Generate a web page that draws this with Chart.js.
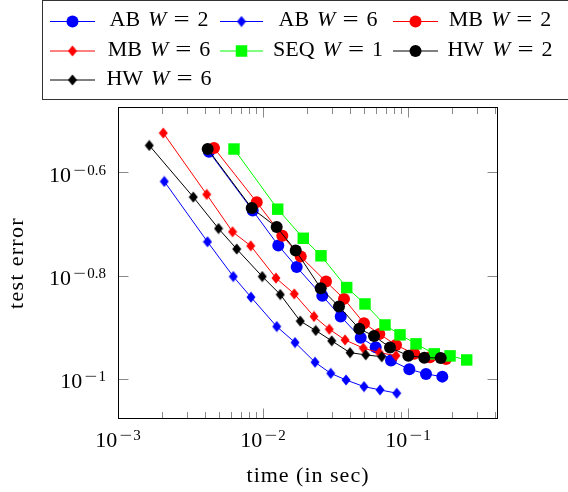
<!DOCTYPE html>
<html>
<head>
<meta charset="utf-8">
<script src="https://cdn.jsdelivr.net/npm/chart.js@4.4.1/dist/chart.umd.min.js"></script>
<style>
  html, body { margin: 0; padding: 0; background: #fff; }
  canvas { display: block; }
</style>
</head>
<body>
<canvas id="myChart" width="568" height="492"></canvas>
<script>
// data: time (in sec) vs test error
const abW2Time = [0.00424, 0.00849, 0.01275, 0.01708, 0.02564, 0.03435, 0.04718, 0.05986, 0.07634, 0.1021, 0.1331, 0.1724];
const abW2Err  = [0.2755, 0.2119, 0.1813, 0.1646, 0.1448, 0.1320, 0.1201, 0.1151, 0.1084, 0.1043, 0.1021, 0.1009];

const abW6Time = [0.002086, 0.004142, 0.00624, 0.008263, 0.01243, 0.01663, 0.02284, 0.0293, 0.03736, 0.04972, 0.06411, 0.08357];
const abW6Err  = [0.2413, 0.1843, 0.1578, 0.1439, 0.1262, 0.1175, 0.1076, 0.1024, 0.0994, 0.0965, 0.0951, 0.0937];

const mbW2Time = [0.004593, 0.009049, 0.01359, 0.0182, 0.02719, 0.03619, 0.04972, 0.06341, 0.08263, 0.1105, 0.1418, 0.1828];
const mbW2Err  = [0.2802, 0.2200, 0.1893, 0.1725, 0.1543, 0.1428, 0.1281, 0.1221, 0.1162, 0.1117, 0.1100, 0.1092];

const mbW6Time = [0.002053, 0.00409, 0.006162, 0.008225, 0.01229, 0.01644, 0.02247, 0.02866, 0.03678, 0.04916, 0.06341, 0.08263];
const mbW6Err  = [0.2996, 0.2277, 0.1927, 0.1810, 0.1567, 0.1460, 0.1320, 0.1247, 0.1189, 0.1146, 0.1123, 0.1108];

const seqW1Time = [0.00631, 0.01263, 0.01896, 0.02512, 0.03778, 0.05051, 0.06939, 0.08808, 0.1136, 0.1518, 0.1949, 0.254];
const seqW1Err  = [0.2789, 0.2132, 0.1872, 0.1731, 0.1502, 0.1396, 0.1271, 0.1216, 0.1168, 0.1117, 0.1107, 0.1087];

const hwW2Time = [0.004156, 0.008357, 0.01243, 0.01681, 0.025, 0.03343, 0.04614, 0.0583, 0.07514, 0.1005, 0.1295, 0.1681];
const hwW2Err  = [0.2789, 0.2142, 0.1968, 0.1772, 0.1498, 0.1380, 0.1249, 0.1210, 0.1149, 0.1108, 0.1098, 0.1097];

const hwW6Time = [0.001644, 0.003306, 0.004933, 0.006587, 0.00989, 0.01316, 0.01808, 0.02309, 0.02977, 0.03981, 0.05109, 0.06587];
const hwW6Err  = [0.2834, 0.2250, 0.1955, 0.1784, 0.1578, 0.1456, 0.1293, 0.1240, 0.1184, 0.1123, 0.1112, 0.1103];

const seriesNames = ['AB', 'AB', 'MB', 'MB', 'SEQ', 'HW', 'HW'];
const seriesW = [2, 6, 2, 6, 1, 2, 6];

// axis range and ticks (powers of ten)
const xMin = 0.001, xMax = 0.4175;
const yMin = 0.0835, yMax = 0.3365;
const xTickExp = [-3, -2, -1];
const yTickExp = [-1, -0.8, -0.6];

const FONT = "'Liberation Serif', 'Times New Roman', serif";

// pgfplots style diamond mark
function diamond(color) {
    const c = document.createElement('canvas');
    c.width = 10; c.height = 12;
    const g = c.getContext('2d');
    g.fillStyle = color;
    g.beginPath();
    g.moveTo(5, 0.5); g.lineTo(9.5, 6); g.lineTo(5, 11.5); g.lineTo(0.5, 6);
    g.closePath();
    g.fill();
    return c;
}

const styles = [
    {color: '#0000ff', mark: 'circle'},
    {color: '#0000ff', mark: 'diamond'},
    {color: '#ff0000', mark: 'circle'},
    {color: '#ff0000', mark: 'diamond'},
    {color: '#00ff00', mark: 'square'},
    {color: '#000000', mark: 'circle'},
    {color: '#000000', mark: 'diamond'},
];
styles.forEach(s => { if (s.mark == 'diamond') s.img = diamond(s.color) })

const seriesData = [
    [abW2Time, abW2Err], [abW6Time, abW6Err], [mbW2Time, mbW2Err], [mbW6Time, mbW6Err],
    [seqW1Time, seqW1Err], [hwW2Time, hwW2Err], [hwW6Time, hwW6Err]
];

const datasets = seriesData.map(([t, e], i) => {
    const s = styles[i];
    let pointStyle = 'circle', radius = 6;
    if (s.mark == 'diamond') { pointStyle = s.img; radius = 6; }
    if (s.mark == 'square') { pointStyle = 'rect'; radius = 8.1; }
    return {
        label: seriesNames[i] + ' W = ' + seriesW[i],
        data: t.map((x, k) => ({x: x, y: e[k]})),
        borderColor: s.color,
        backgroundColor: s.color,
        borderWidth: 1,
        pointStyle: pointStyle,
        pointRadius: radius,
        pointBorderWidth: 0,
        pointBackgroundColor: s.color,
        tension: 0,
        order: seriesData.length - i, // later series on top, like pgfplots
    };
});

function drawMark(ctx, s, x, y) {
    ctx.fillStyle = s.color;
    if (s.mark == 'circle') {
        ctx.beginPath(); ctx.arc(x, y, 6, 0, Math.PI * 2); ctx.fill();
    } else if (s.mark == 'square') {
        ctx.fillRect(x - 5.75, y - 5.75, 11.5, 11.5);
    } else {
        ctx.drawImage(s.img, x - 5, y - 6);
    }
}

// draw a row of text pieces (gap dx, raise dy, horizontal stretch sx)
function drawPieces(ctx, pieces, x, y, align) {
    let total = 0;
    pieces.forEach(p => {
        ctx.font = p.font;
        p.w = ctx.measureText(p.t).width * (p.sx || 1);
        total += (p.dx || 0) + p.w;
    });
    let cx = x;
    if (align == 'right') cx = x - total;
    if (align == 'center') cx = x - total / 2;
    ctx.textAlign = 'left';
    ctx.textBaseline = 'alphabetic';
    pieces.forEach(p => {
        cx += p.dx || 0;
        ctx.font = p.font;
        ctx.save();
        ctx.translate(cx, y + (p.dy || 0));
        ctx.scale(p.sx || 1, 1);
        ctx.fillText(p.t, 0, 0);
        ctx.restore();
        cx += p.w;
    });
}

function powPieces(exp) {
    return [
        {t: '10', font: '22px ' + FONT},
        {t: '\u2212', font: '15px ' + FONT, dx: 2, dy: -7, sx: 1.5},
        {t: String(Math.abs(exp)), font: '15px ' + FONT, dx: 1.5, dy: -7},
    ];
}

const axisPlugin = {
    id: 'axisPlugin',
    afterDatasetsDraw(chart) {
        const {ctx, chartArea: a, scales: {x, y}} = chart;
        ctx.save();
        // inner ticks
        ctx.strokeStyle = '#8a8a8a';
        ctx.lineWidth = 1;
        ctx.beginPath();
        xTickExp.forEach(e => {
            const px = Math.round(x.getPixelForValue(Math.pow(10, e))) + 0.5;
            ctx.moveTo(px, a.bottom); ctx.lineTo(px, a.bottom - 10.5);
            ctx.moveTo(px, a.top); ctx.lineTo(px, a.top + 10.5);
            for (let m = 2; m <= 9; m++) {
                const v = m * Math.pow(10, e);
                if (v > xMax) break;
                const mx = Math.round(x.getPixelForValue(v)) + 0.5;
                ctx.moveTo(mx, a.bottom); ctx.lineTo(mx, a.bottom - 7);
                ctx.moveTo(mx, a.top); ctx.lineTo(mx, a.top + 7);
            }
        });
        yTickExp.forEach(e => {
            const py = Math.round(y.getPixelForValue(Math.pow(10, e))) + 0.5;
            ctx.moveTo(a.left, py); ctx.lineTo(a.left + 10.5, py);
            ctx.moveTo(a.right, py); ctx.lineTo(a.right - 10.5, py);
        });
        ctx.stroke();
        // frame
        ctx.strokeStyle = '#000';
        ctx.strokeRect(a.left + 0.5, a.top + 0.5, a.right - a.left - 1, a.bottom - a.top - 1);

        // tick labels
        ctx.fillStyle = '#000';
        xTickExp.forEach(e => {
            drawPieces(ctx, powPieces(e), x.getPixelForValue(Math.pow(10, e)), a.bottom + 28, 'center');
        });
        yTickExp.forEach(e => {
            drawPieces(ctx, powPieces(e), a.left - 12, y.getPixelForValue(Math.pow(10, e)) + 9.5, 'right');
        });

        // axis titles
        ctx.font = '22px ' + FONT;
        ctx.letterSpacing = '1px';
        ctx.textAlign = 'center';
        ctx.textBaseline = 'alphabetic';
        ctx.fillText('time (in sec)', (a.left + a.right) / 2, 482);
        ctx.save();
        ctx.translate(23, (a.top + a.bottom) / 2);
        ctx.rotate(-Math.PI / 2);
        ctx.letterSpacing = '1.3px';
        ctx.fillText('test error', 0, 0);
        ctx.restore();
        ctx.letterSpacing = '0px';

        // legend box
        ctx.strokeStyle = '#333';
        ctx.strokeRect(42.5, 0.5, 540, 99);
        const lineX = [[50, 95], [220, 263], [393, 438]];
        const textC = [159, 328, 500];
        const rowY = [21.5, 51, 80];
        for (let i = 0; i < datasets.length; i++) {
            const col = i % 3, row = Math.floor(i / 3);
            const s = styles[i], yy = rowY[row];
            const [x0, x1] = lineX[col];
            ctx.strokeStyle = s.color;
            ctx.beginPath(); ctx.moveTo(x0, yy); ctx.lineTo(x1, yy); ctx.stroke();
            drawMark(ctx, s, (x0 + x1) / 2, yy);
            // label: name, italic W, = value
            ctx.fillStyle = '#000';
            drawPieces(ctx, [
                {t: seriesNames[i], font: '22px ' + FONT},
                {t: 'W', font: 'italic 22px ' + FONT, dx: 8},
                {t: '=', font: '22px ' + FONT, dx: 7, sx: 1.3},
                {t: String(seriesW[i]), font: '22px ' + FONT, dx: 8},
            ], textC[col], yy + 4.5, 'center');
        }
        ctx.restore();
    }
};

const ctx = document.getElementById('myChart').getContext('2d');
const myChart = new Chart(ctx, {
    type: 'line',
    data: { datasets: datasets },
    options: {
        responsive: false,
        animation: false,
        events: [],
        layout: { padding: { left: 118, right: 70, top: 107, bottom: 73 } },
        scales: {
            x: { type: 'logarithmic', min: xMin, max: xMax, display: false },
            y: { type: 'logarithmic', min: yMin, max: yMax, display: false }
        },
        plugins: {
            legend: { display: false },
            tooltip: { enabled: false }
        }
    },
    plugins: [axisPlugin]
});
</script>
</body>
</html>
